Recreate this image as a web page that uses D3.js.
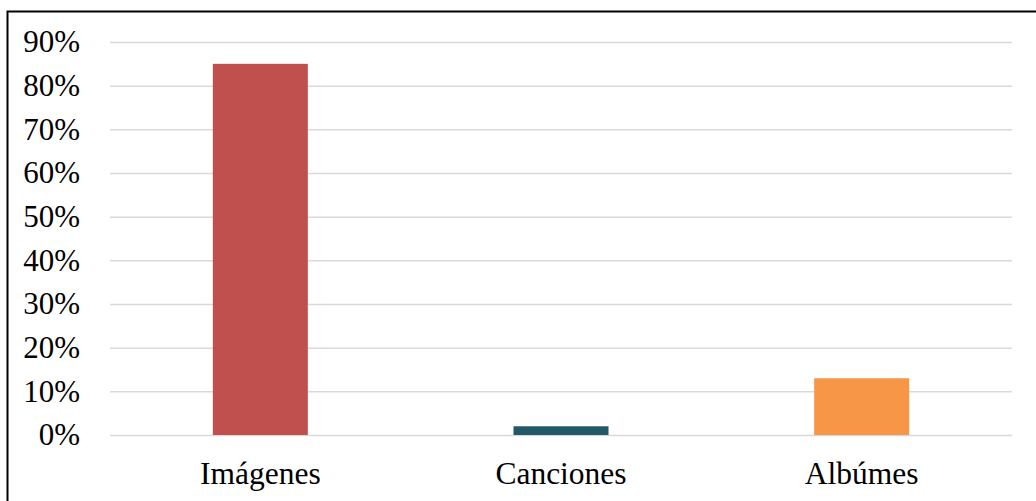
<!DOCTYPE html>
<html><head><meta charset="utf-8">
<script src="https://cdn.jsdelivr.net/npm/d3@7"></script>
<style>html,body{margin:0;padding:0;background:#fff;overflow:hidden}</style>
</head><body>
<svg id="c" width="1036" height="501"></svg>
<script>
const categories = ["Imágenes", "Canciones", "Albúmes"];
const values = [0.85, 0.02, 0.13];
const colors = ["#C0504D", "#215968", "#F79646"];
const yTicks = [0, 0.1, 0.2, 0.3, 0.4, 0.5, 0.6, 0.7, 0.8, 0.9];

const svg = d3.select("#c");
const font = "'Liberation Serif','Times New Roman',serif";
const mLeft = 110, mRight = 1012, mTop = 42, mBottom = 435;

const frame = d3.path();
frame.moveTo(7.5, 520); frame.lineTo(7.5, 11.5); frame.lineTo(1050, 11.5);
svg.append("path").attr("d", frame.toString())
  .attr("fill", "none").attr("stroke", "#000").attr("stroke-width", 2);

const y = d3.scaleLinear().domain([0, 0.9]).range([mBottom, mTop]);
const x = d3.scaleBand().domain(categories).range([mLeft, mRight]).paddingInner(0).paddingOuter(0);

const yAxis = d3.axisLeft(y).tickValues(yTicks).tickFormat(d3.format(".0%"))
  .tickSize(-(mRight - mLeft)).tickPadding(30);
const gy = svg.append("g").attr("transform", `translate(${mLeft},0)`).call(yAxis);
gy.select(".domain").remove();
gy.selectAll(".tick line").attr("stroke", "#D9D9D9").attr("stroke-width", 1.5);
gy.selectAll(".tick text").attr("font-family", font).attr("font-size", 31).attr("fill", "#000");

const bw = x.step() * 0.316;
svg.append("g").selectAll("rect").data(categories).join("rect")
  .attr("x", (d) => x(d) + x.bandwidth() / 2 - bw / 2)
  .attr("width", bw)
  .attr("y", (d, i) => y(values[i]))
  .attr("height", (d, i) => y(0) - y(values[i]))
  .attr("fill", (d, i) => colors[i]);

const xAxis = d3.axisBottom(x).tickSize(0).tickPadding(0);
const gx = svg.append("g").attr("transform", `translate(0,${mBottom})`).call(xAxis);
gx.select(".domain").remove();
gx.selectAll(".tick text").attr("font-family", font).attr("font-size", 31.5).attr("fill", "#000")
  .attr("dy", null).attr("y", 49);
</script>
</body></html>
